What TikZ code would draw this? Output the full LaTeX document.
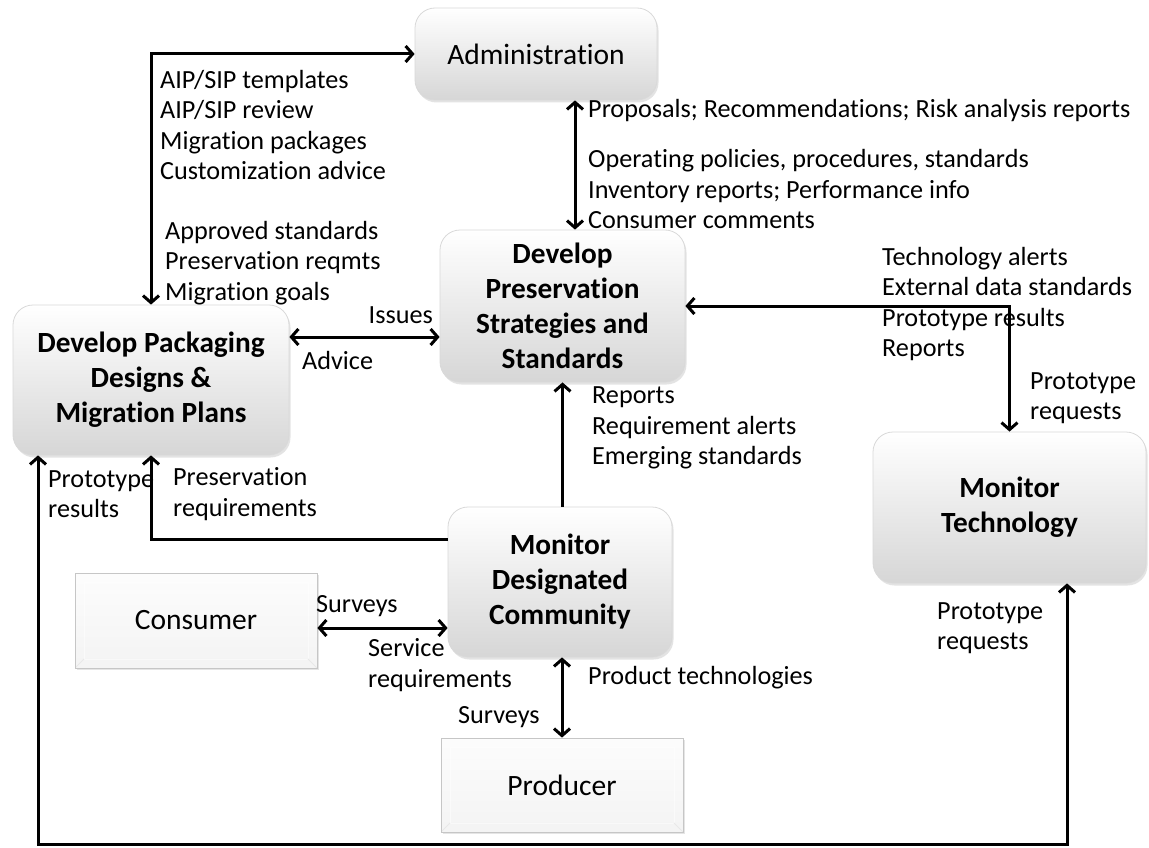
\documentclass[tikz,border=0pt]{standalone}
\usepackage{fontspec}
\setmainfont{Carlito}[Ligatures={NoCommon}]
\usetikzlibrary{arrows.meta,shadows,calc}
\newcommand\labfont{\fontsize{26.2}{30.5}\selectfont}
\newcommand\boxfont{\fontsize{29.5}{34}\selectfont}
\newcommand\bboxfont{\fontsize{29.3}{35}\selectfont\bfseries}
\begin{document}
\begin{tikzpicture}[x=1pt,y=-1pt,
  proc/.style={rounded corners=20pt, draw=gray!30, line width=0.8pt,
    top color=white, bottom color=gray!32, align=center, inner sep=0pt,
    font=\bboxfont,
    drop shadow={opacity=0.22, shadow xshift=1.5pt, shadow yshift=-2.5pt}},
  ext/.style={draw=gray!45, line width=0.8pt, top color=gray!2, bottom color=gray!9,
    align=center, inner sep=0pt, font=\boxfont,
    drop shadow={opacity=0.2, shadow xshift=2pt, shadow yshift=-2pt},
    path picture={
      \draw[white, opacity=0.5, line width=0.6pt]
        ([xshift=9pt,yshift=-9pt]path picture bounding box.north west) rectangle
        ([xshift=-9pt,yshift=9pt]path picture bounding box.south east);
      \draw[gray!18, line width=0.8pt] (path picture bounding box.south east) --
        ([xshift=-9pt,yshift=9pt]path picture bounding box.south east);
      \draw[gray!18, line width=0.8pt] (path picture bounding box.south west) --
        ([xshift=9pt,yshift=9pt]path picture bounding box.south west);
    }},
  lab/.style={font=\labfont, align=left, inner sep=0pt, anchor=west},
  conn/.style={line width=3pt},
  tip/.tip={Straight Barb[length=7pt,width=16pt]},
  dbl/.style={conn, tip-tip},
  one/.style={conn, -tip}]
\fill[white] (0,0) rectangle (1149,848);
\useasboundingbox (0,0) rectangle (1149,848);

% boxes
\node[proc, font=\boxfont, minimum width=242pt, minimum height=92pt] (admin) at (536,54) {Administration};
\node[proc, minimum width=245pt, minimum height=152pt] (pres) at (562.5,306) {Develop\\Preservation\\Strategies and\\Standards};
\node[proc, minimum width=276pt, minimum height=150pt] (pack) at (151,380) {Develop Packaging\\Designs \&\\Migration Plans};
\node[proc, minimum width=224pt, minimum height=150pt] (comm) at (560,582) {Monitor\\Designated\\Community};
\node[proc, minimum width=273pt, minimum height=151pt] (tech) at (1009.5,507.5) {Monitor\\Technology};
\node[ext, minimum width=242pt, minimum height=95pt] (cons) at (196,620.5) {Consumer};
\node[ext, minimum width=242pt, minimum height=94pt] (prod) at (562,785) {Producer};

% helper coordinates
\coordinate (xa) at (575,0);
\coordinate (ypp) at (0,337);
\coordinate (ycp) at (0,539);
\coordinate (ycc) at (0,628);
\coordinate (bl) at (38,844);
\coordinate (br) at (1067,844);

% connectors
\draw[dbl] (admin.west) -| (pack.north);
\draw[dbl] (admin.south -| xa) -- (pres.north -| xa);
\draw[dbl] (pack.east |- ypp) -- (pres.west |- ypp);
\draw[dbl] (pres.east) -| (tech.north);
\draw[one] (pres.south |- comm.north) -- (pres.south);
\draw[one] (comm.west |- ycp) -| (pack.south);
\draw[dbl] (cons.east |- ycc) -- (comm.west |- ycc);
\draw[dbl] (prod.north |- comm.south) -- (prod.north);
\draw[dbl] (pack.south -| bl) -- (bl) -- (br) -- (tech.south -| br);

% labels
\node[lab] (l1) at (160,125) {AIP/SIP templates\\AIP/SIP review\\Migration packages\\Customization advice};
\node[lab] (l2) at (165,263) {Approved standards\\Preservation reqmts\\Migration goals};
\node[lab] (l3) at (588,111) {Proposals; Recommendations; Risk analysis reports};
\node[lab] (l4) at (588,189) {Operating policies, procedures, standards\\Inventory reports; Performance info\\Consumer comments};
\node[lab, anchor=east] (l5) at (433,315) {Issues};
\node[lab] (l6) at (302,360) {Advice};
\node[lab] (l7) at (882,304) {Technology alerts\\External data standards\\Prototype results\\Reports};
\node[lab] (l8) at (1030,398) {Prototype\\requests};
\node[lab] (l9) at (592,428) {Reports\\Requirement alerts\\Emerging standards};
\node[lab] (l10) at (48,494) {Prototype\\results};
\node[lab] (l11) at (173,494) {Preservation\\requirements};
\node[lab] (l12) at (316,606) {Surveys};
\node[lab] (l13) at (368,665) {Service\\requirements};
\node[lab] (l14) at (588,678) {Product technologies};
\node[lab] (l15) at (458,717) {Surveys};
\node[lab] (l16) at (937,628) {Prototype\\requests};
\end{tikzpicture}
\end{document}
